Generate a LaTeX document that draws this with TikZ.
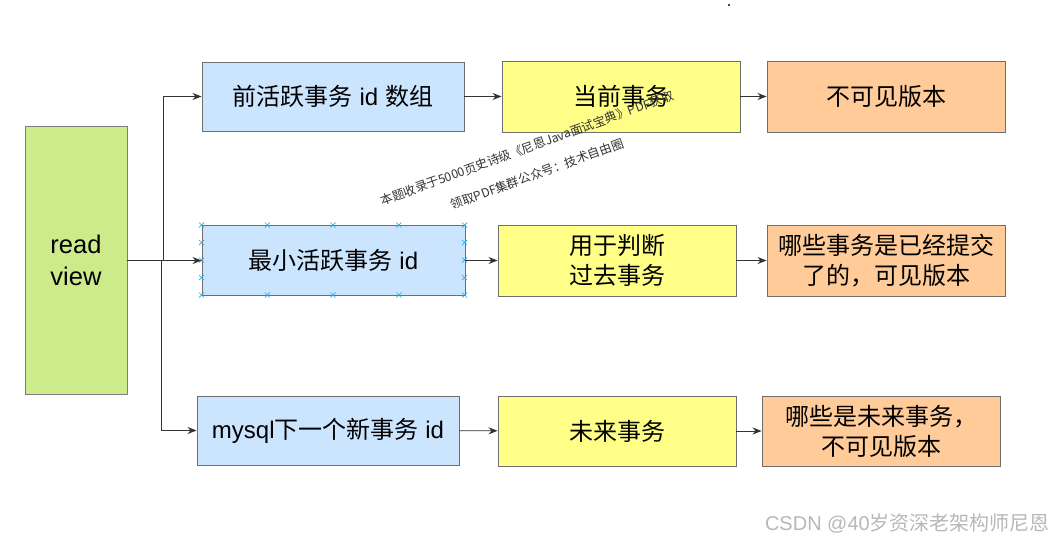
\documentclass[tikz,border=0pt]{standalone}
\usepackage{fontspec}
\setmainfont{Noto Sans CJK SC}
\newfontfamily\latf{Liberation Sans}
\newcommand\LS[1]{{\latf #1}}
\usetikzlibrary{arrows.meta,calc}
\definecolor{bluef}{HTML}{CCE5FF}
\definecolor{yelf}{HTML}{FFFF88}
\definecolor{oraf}{HTML}{FFCC99}
\definecolor{grnf}{HTML}{CDEB8B}
\definecolor{edge}{HTML}{6E6E6E}
\definecolor{wire}{HTML}{333333}
\definecolor{handle}{HTML}{29A9E0}
\begin{document}
\begin{tikzpicture}[x=1pt,y=-1pt,
  box/.style={draw=edge,line width=0.9pt,inner sep=0pt,align=center,
    font=\fontsize{24pt}{30pt}\selectfont},
  bbox/.style={box,fill=bluef,minimum width=262pt,minimum height=69pt},
  ybox/.style={box,fill=yelf,minimum width=238pt,minimum height=71pt},
  obox/.style={box,fill=oraf,minimum width=238pt,minimum height=71pt},
  arr/.style={draw=wire,line width=0.9pt,-{Stealth[length=9pt,width=7pt]}},
  wm/.style={text=black!80,font=\fontsize{12.3pt}{14pt}\selectfont,rotate=20,inner sep=0pt},
  hmark/.style={draw=handle,line width=0.6pt}
]
\useasboundingbox[fill=white] (0,0) rectangle (1056,540);
\fill[black] (729,5) circle (1.1pt);

\node[box,fill=grnf,draw=edge!90,minimum width=102pt,minimum height=268pt,
  font=\latf\fontsize{25.5pt}{32pt}\selectfont] (rv) at (76,260.5) {read\\view};

\node[bbox] (a1) at (333,96.5) {前活跃事务\LS{ id }数组};
\node[bbox,minimum width=263pt,minimum height=70pt] (a2) at (333.5,260.5) {最小活跃事务\LS{ id}};
\node[bbox] (a3) at (328,430.5) {\LS{mysql}下一个新事务\LS{ id}};

\node[ybox] (b1) at (621,96.5) {当前事务};
\node[ybox] (b2) at (617,260.5) {用于判断\\过去事务};
\node[ybox,minimum height=70pt] (b3) at (617,431) {未来事务};

\node[obox] (c1) at (886,96.5) {不可见版本};
\node[obox] (c2) at (886,260.5) {哪些事务是已经提交\\了的，可见版本};
\node[obox,minimum height=70pt] (c3) at (881,431) {哪些是未来事务，\\不可见版本};

% selection handles on a2
\foreach \hx in {0,0.25,0.5,0.75,1}{
  \foreach \hy in {0,1}{
    \path (a2.north west) ++(\hx*263,\hy*70) coordinate (h);
    \draw[hmark] ($(h)+(-2.5,-2.5)$) -- ($(h)+(2.5,2.5)$) ($(h)+(-2.5,2.5)$) -- ($(h)+(2.5,-2.5)$);
  }
}
\foreach \hy in {0.25,0.5,0.75}{
  \foreach \hx in {0,1}{
    \path (a2.north west) ++(\hx*263,\hy*70) coordinate (h);
    \draw[hmark] ($(h)+(-2.5,-2.5)$) -- ($(h)+(2.5,2.5)$) ($(h)+(-2.5,2.5)$) -- ($(h)+(2.5,-2.5)$);
  }
}

\coordinate (jt) at (163,260.5);
\coordinate (jb) at (161,260.5);
\draw[arr] (rv.east) -- (jt) |- (a1.west);
\draw[arr] (jt) -- (a2.west);
\draw[arr] (jb) |- (a3.west);

\draw[arr] (a1) -- (b1);
\draw[arr] (a2) -- (b2);
\draw[arr] (a3) -- (b3);
\draw[arr] (b1) -- (c1);
\draw[arr] (b2) -- (c2);
\draw[arr] (b3) -- (c3);

\node[wm] (w1) at (527,148) {本题收录于5000页史诗级《尼恩Java面试宝典》PDF获取};
\node[wm] (w2) at (537,174) {领取PDF集群公众号：技术自由圈};

\node[text=black!28,font=\fontsize{20pt}{22pt}\selectfont,anchor=east,inner sep=0pt] (csdn) at (1050,523) {\LS{CSDN @40}岁资深老架构师尼恩};
\end{tikzpicture}
\end{document}
